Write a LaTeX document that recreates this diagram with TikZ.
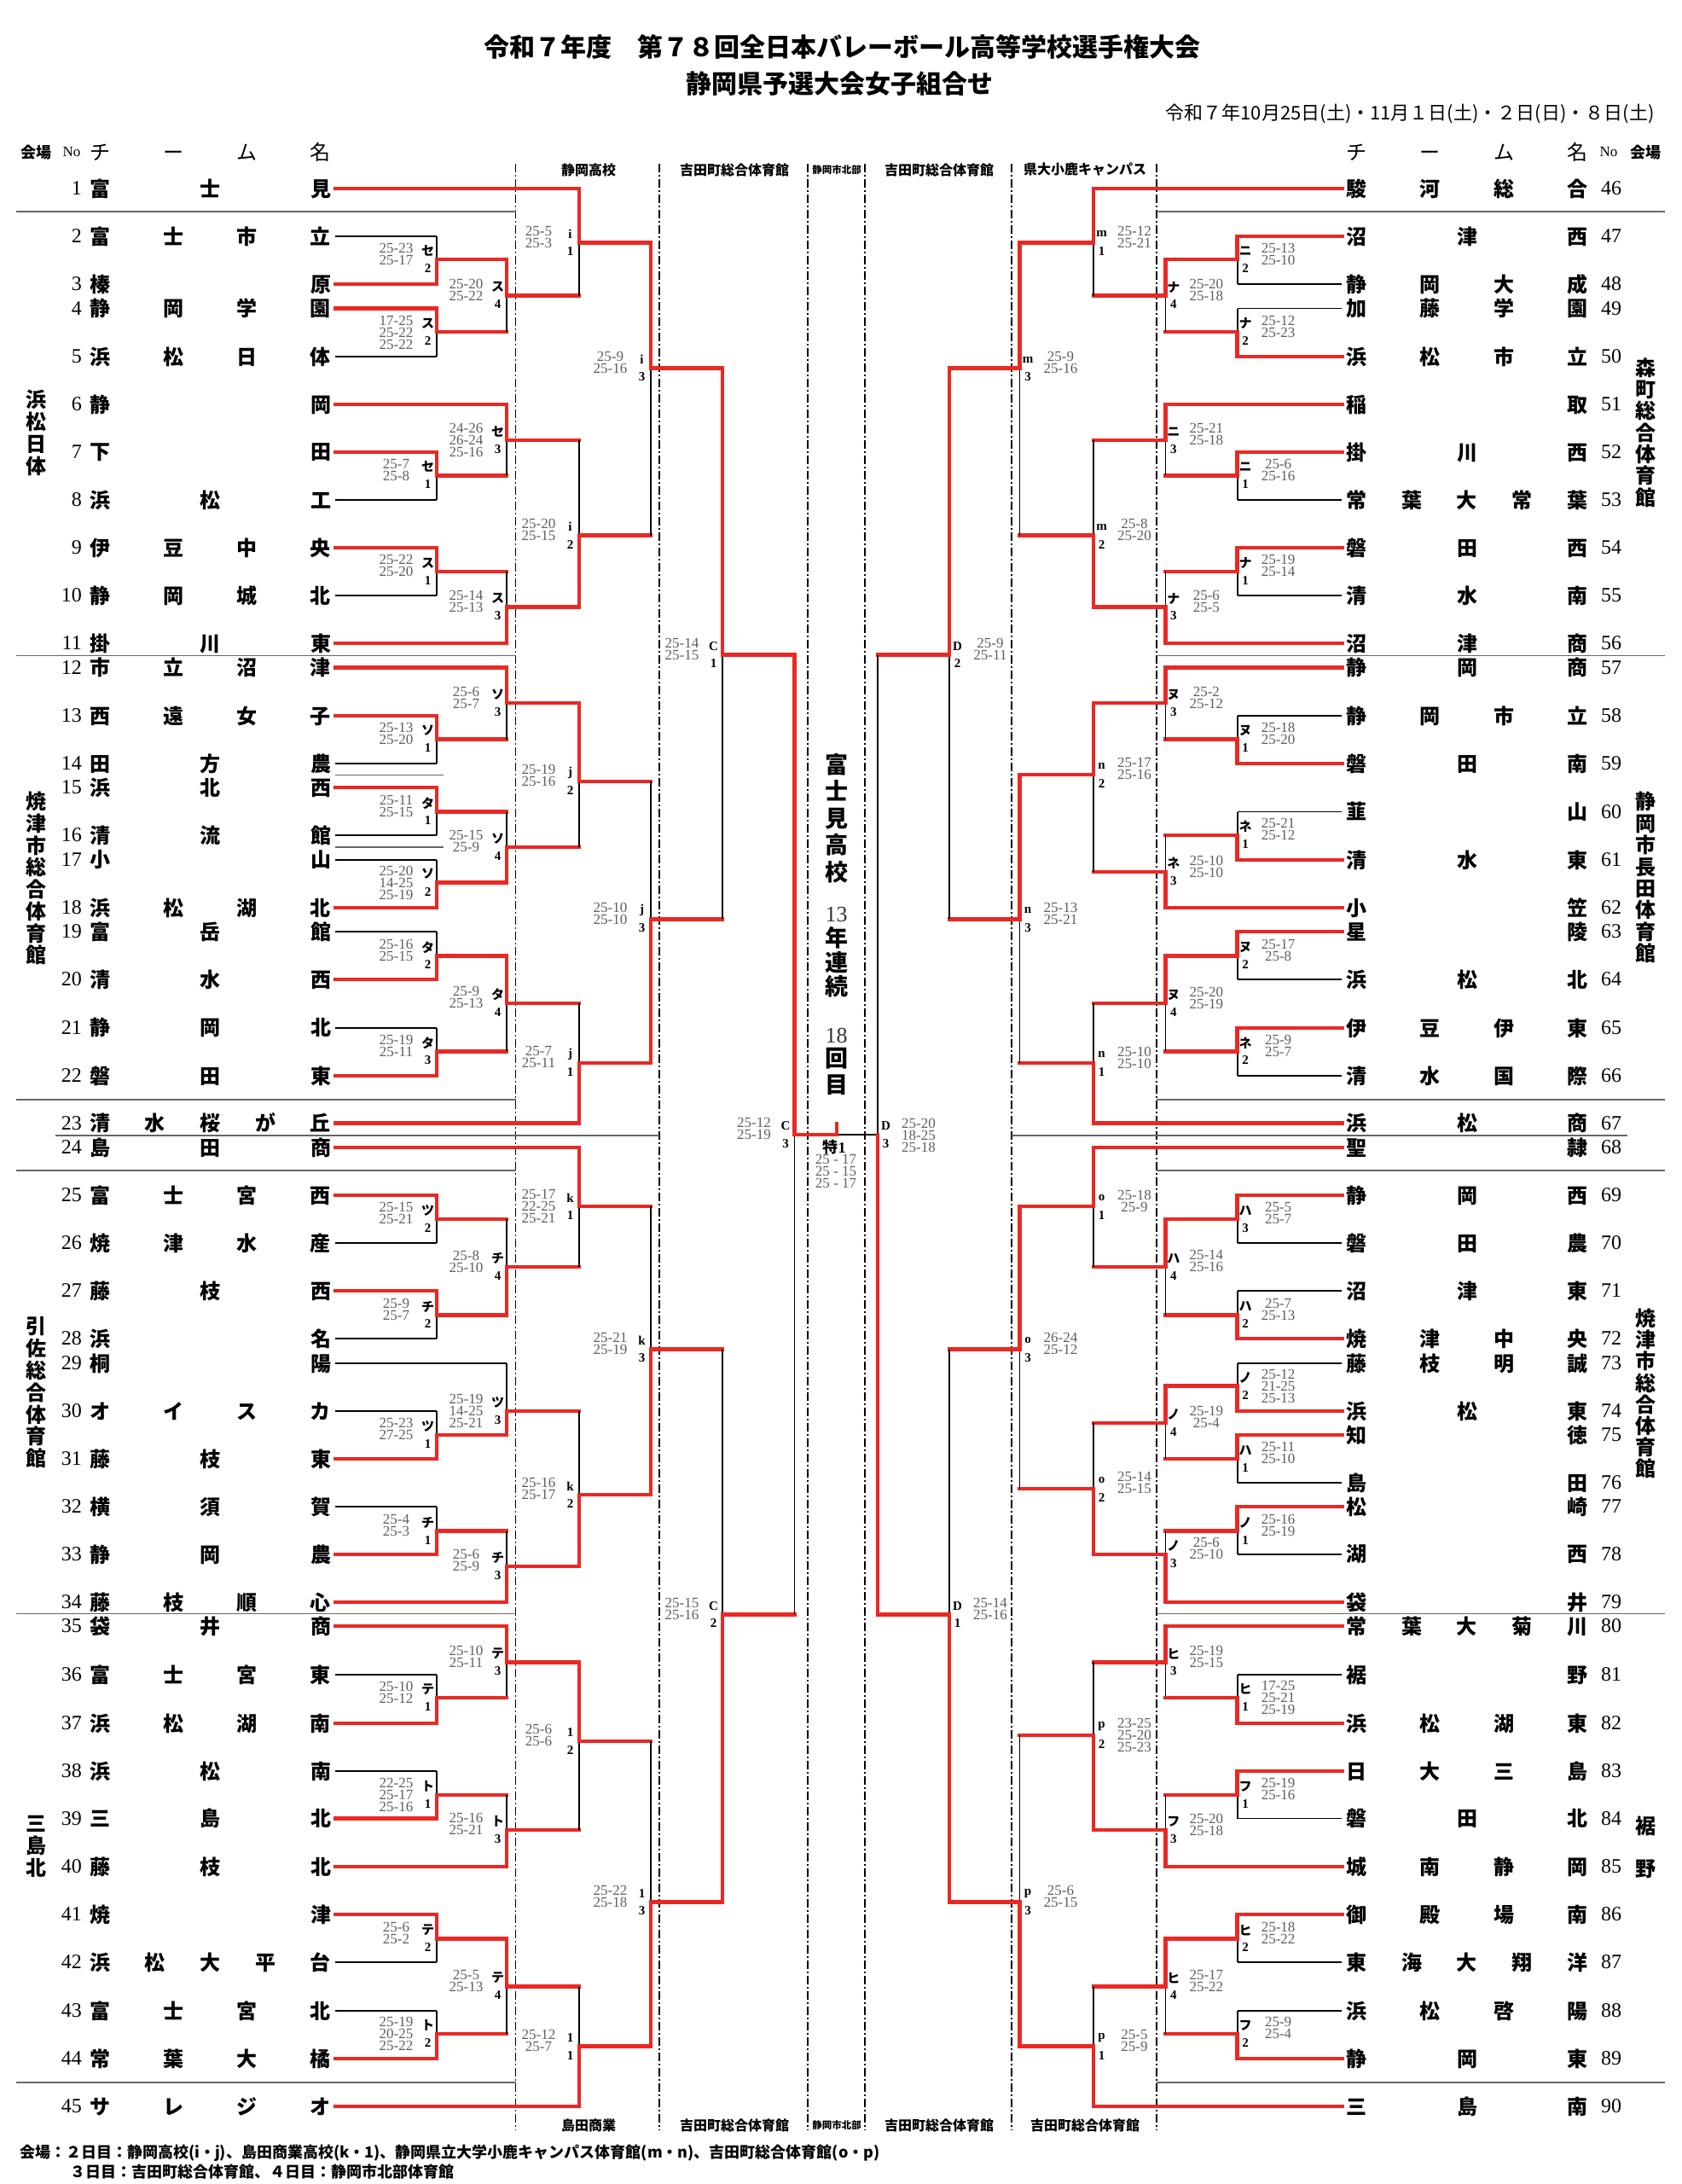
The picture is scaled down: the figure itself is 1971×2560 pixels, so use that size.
\documentclass[tikz,border=0pt]{standalone}
\usepackage{fontspec}
\setmainfont{Liberation Serif}
\newfontfamily\jp{Noto Sans CJK JP}
\definecolor{wred}{RGB}{234,40,36}
\definecolor{sgray}{RGB}{95,95,95}
\newcounter{mt}
\makeatletter
% spread the characters of a team name over a fixed width
\newcommand\spread[1]{\makebox[283pt]{\let\sp@sep\relax\@tfor\sp@c:=#1\do{\sp@sep\sp@c\let\sp@sep\hfill}}}
\makeatother
\newcommand\kn[1]{{\jp\bfseries #1}}
\tikzset{
  win/.style={draw=wred, line width=4.5pt, line cap=rect},
  lose/.style={draw=black, line width=1.8pt},
  sep/.style={draw=black!60, line width=1.3pt},
  dashdot/.style={draw=black, line width=1.5pt, dash pattern=on 10pt off 3pt on 2pt off 3pt},
  tname/.style={font=\jp\bfseries\fontsize{24}{24}\selectfont, inner xsep=5pt, inner ysep=0pt},
  thead/.style={font=\jp\fontsize{24}{24}\selectfont, inner xsep=5pt, inner ysep=0pt},
  tno/.style={font=\fontsize{24}{24}\selectfont, inner sep=0pt},
  mlab/.style={font=\bfseries\fontsize{15}{15}\selectfont, inner sep=0pt},
  score/.style={font=\fontsize{17}{14}\selectfont, text=sgray, align=center, anchor=north, inner sep=0pt},
  venue/.style={font=\jp\bfseries\fontsize{24}{26}\selectfont, align=center, inner sep=0pt},
  colhead/.style={font=\jp\bfseries\fontsize{16}{16}\selectfont, inner sep=0pt},
}
% team on the left / right: number, y, name, first column, style
\newcommand\LT[5]{\node[tname] (team#1) at (246.5,#2) {\spread{#3}};
  \node[tno,anchor=east] (no#1) at (96,#2) {#1};
  \draw[#5] (team#1.east) -- (#4,#2);}
\newcommand\RT[5]{\node[tname] (team#1) at (1720,#2) {\spread{#3}};
  \node[tno,anchor=west] (no#1) at (1877,#2) {#1};
  \draw[#5] (team#1.west) -- (#4,#2);}
% match: x, next x, y top, y bottom, y out (upper / lower winner)
\newcommand\Mt[5]{\draw[lose] (#1,#5) -- (#1,#4); \draw[win] (#1,#3) -- (#1,#5) -- (#2,#5);}
\newcommand\Mb[5]{\draw[lose] (#1,#5) -- (#1,#3); \draw[win] (#1,#4) -- (#1,#5) -- (#2,#5);}
% match labels: x, y out, letter, number, scores
\newcommand\Lb[5]{\stepcounter{mt}%
  \ifdim #1pt<981pt \def\dx{-10.5}\def\sx{-47.5}\else\def\dx{9.5}\def\sx{48}\fi
  \node[mlab] (lt\themt) at ({#1+(\dx)},{#2-10}) {#3};
  \node[mlab] (ln\themt) at ({#1+(\dx)},{#2+10.5}) {#4};
  \node[score] (sc\themt) at ({#1+(\sx)},{#2-19.5}) {#5};}
\begin{document}
\begin{tikzpicture}[x=1pt,y=-1pt,line join=miter]
\useasboundingbox[fill=white] (0,0) rectangle (1971,2560);
%% titles
\node[font=\jp\bfseries\fontsize{30}{30}\selectfont] (title1) at (987,55) {令和７年度　第７８回全日本バレーボール高等学校選手権大会};
\node[font=\jp\bfseries\fontsize{30}{30}\selectfont] (title2) at (984,98) {静岡県予選大会女子組合せ};
\node[font=\jp\fontsize{22}{22}\selectfont,anchor=east] (date) at (1943,133) {令和７年10月25日(土)・11月１日(土)・２日(日)・８日(土)};
%% table heads
\node[font=\jp\bfseries\fontsize{18}{18}\selectfont] (hvL) at (42,178.5) {会場};
\node[font=\fontsize{17}{17}\selectfont] (hnL) at (84,178.5) {No};
\node[thead] (htL) at (246.5,178.5) {\spread{チーム名}};
\node[thead] (htR) at (1720,178.5) {\spread{チーム名}};
\node[font=\fontsize{17}{17}\selectfont] (hnR) at (1886,178.5) {No};
\node[font=\jp\bfseries\fontsize{18}{18}\selectfont] (hvR) at (1929,178.5) {会場};
\foreach \x/\t [count=\i] in {690/静岡高校,861/吉田町総合体育館,1101/吉田町総合体育館,1272/県大小鹿キャンパス}
  \node[colhead] (ct\i) at (\x,199) {\t};
\foreach \x/\t [count=\i] in {690/島田商業,861/吉田町総合体育館,1101/吉田町総合体育館,1272/吉田町総合体育館}
  \node[colhead] (cb\i) at (\x,2491) {\t};
\node[colhead,font=\jp\bfseries\fontsize{11.5}{11.5}\selectfont] (ct5) at (981,199) {静岡市北部};
\node[colhead,font=\jp\bfseries\fontsize{11.5}{11.5}\selectfont] (cb5) at (981,2491) {静岡市北部};
%% grid
\foreach \x in {604.6,773,947,1014,1186,1356}
  \draw[dashdot] (\x,192) -- (\x,2497);
\foreach \y in {248,768.5,1289,1372,1891.5,2441} {
  \draw[sep] (19,\y) -- (604.6,\y);
  \draw[sep] (1356,\y) -- (1952,\y);
}
\draw[sep] (65,1331) -- (773,1331);
\draw[sep] (1186,1331) -- (1908,1331);
\draw[sep] (393,908.8) -- (520,908.8);
\draw[sep] (393,993) -- (520,993);
%% venues
\node[venue] (v1) at (42,507.6) {浜\\松\\日\\体};
\node[venue,font=\jp\bfseries\fontsize{24}{25.7}\selectfont] (v2) at (42,1029.7) {焼\\津\\市\\総\\合\\体\\育\\館};
\node[venue,font=\jp\bfseries\fontsize{24}{25.8}\selectfont] (v3) at (42,1632.3) {引\\佐\\総\\合\\体\\育\\館};
\node[venue] (v4) at (42,2164) {三\\島\\北};
\node[venue,font=\jp\bfseries\fontsize{24}{25.3}\selectfont] (v5) at (1929,507) {森\\町\\総\\合\\体\\育\\館};
\node[venue,font=\jp\bfseries\fontsize{24}{25.4}\selectfont] (v6) at (1929,1028.7) {静\\岡\\市\\長\\田\\体\\育\\館};
\node[venue,font=\jp\bfseries\fontsize{24}{25.1}\selectfont] (v7) at (1929,1633.5) {焼\\津\\市\\総\\合\\体\\育\\館};
\node[venue,font=\jp\bfseries\fontsize{24}{50}\selectfont] (v8) at (1929,2165) {裾\\野};
%% left teams
\LT{1}{221}{富士見}{679}{win}
\LT{2}{277}{富士市立}{512}{lose}
\LT{3}{333}{榛原}{512}{win}
\LT{4}{361.5}{静岡学園}{512}{win}
\LT{5}{418}{浜松日体}{512}{lose}
\LT{6}{474}{静岡}{594}{win}
\LT{7}{530}{下田}{512}{win}
\LT{8}{586}{浜松工}{512}{lose}
\LT{9}{642}{伊豆中央}{512}{win}
\LT{10}{698}{静岡城北}{512}{lose}
\LT{11}{754}{掛川東}{594}{win}
\LT{12}{782.7}{市立沼津}{594}{win}
\LT{13}{839}{西遠女子}{512}{win}
\LT{14}{895}{田方農}{512}{lose}
\LT{15}{923}{浜北西}{512}{win}
\LT{16}{979}{清流館}{512}{lose}
\LT{17}{1007.7}{小山}{512}{lose}
\LT{18}{1064}{浜松湖北}{512}{win}
\LT{19}{1092}{富岳館}{512}{lose}
\LT{20}{1148}{清水西}{512}{win}
\LT{21}{1204.6}{静岡北}{512}{lose}
\LT{22}{1261}{磐田東}{512}{win}
\LT{23}{1316.5}{清水桜が丘}{679}{win}
\LT{24}{1345}{島田商}{679}{win}
\LT{25}{1401}{富士宮西}{512}{win}
\LT{26}{1457}{焼津水産}{512}{lose}
\LT{27}{1513}{藤枝西}{512}{win}
\LT{28}{1569}{浜名}{512}{lose}
\LT{29}{1598}{桐陽}{594}{lose}
\LT{30}{1654}{オイスカ}{512}{lose}
\LT{31}{1710}{藤枝東}{512}{win}
\LT{32}{1766}{横須賀}{512}{lose}
\LT{33}{1822}{静岡農}{512}{win}
\LT{34}{1878}{藤枝順心}{594}{win}
\LT{35}{1906}{袋井商}{594}{win}
\LT{36}{1963}{富士宮東}{512}{lose}
\LT{37}{2020}{浜松湖南}{512}{win}
\LT{38}{2076}{浜松南}{512}{lose}
\LT{39}{2131.5}{三島北}{512}{win}
\LT{40}{2188}{藤枝北}{594}{win}
\LT{41}{2244}{焼津}{512}{win}
\LT{42}{2300}{浜松大平台}{512}{lose}
\LT{43}{2357}{富士宮北}{512}{lose}
\LT{44}{2413}{常葉大橘}{512}{win}
\LT{45}{2469}{サレジオ}{679}{win}
%% right teams
\RT{46}{221}{駿河総合}{1282}{win}
\RT{47}{277}{沼津西}{1450.6}{win}
\RT{48}{333}{静岡大成}{1450.6}{lose}
\RT{49}{361.5}{加藤学園}{1450.6}{lose}
\RT{50}{418}{浜松市立}{1450.6}{win}
\RT{51}{474}{稲取}{1366.4}{win}
\RT{52}{530}{掛川西}{1450.6}{win}
\RT{53}{586}{常葉大常葉}{1450.6}{lose}
\RT{54}{642}{磐田西}{1450.6}{win}
\RT{55}{698}{清水南}{1450.6}{lose}
\RT{56}{754}{沼津商}{1366.4}{win}
\RT{57}{782.7}{静岡商}{1366.4}{win}
\RT{58}{839}{静岡市立}{1450.6}{lose}
\RT{59}{895}{磐田南}{1450.6}{win}
\RT{60}{951.5}{韮山}{1450.6}{lose}
\RT{61}{1008}{清水東}{1450.6}{win}
\RT{62}{1064}{小笠}{1366.4}{win}
\RT{63}{1092}{星陵}{1450.6}{win}
\RT{64}{1148}{浜松北}{1450.6}{lose}
\RT{65}{1205}{伊豆伊東}{1450.6}{win}
\RT{66}{1261}{清水国際}{1450.6}{lose}
\RT{67}{1316.5}{浜松商}{1282}{win}
\RT{68}{1345}{聖隷}{1282}{win}
\RT{69}{1401}{静岡西}{1450.6}{win}
\RT{70}{1457}{磐田農}{1450.6}{lose}
\RT{71}{1513}{沼津東}{1450.6}{lose}
\RT{72}{1569}{焼津中央}{1450.6}{win}
\RT{73}{1598}{藤枝明誠}{1450.6}{lose}
\RT{74}{1654}{浜松東}{1450.6}{win}
\RT{75}{1682}{知徳}{1450.6}{win}
\RT{76}{1738}{島田}{1450.6}{lose}
\RT{77}{1766}{松崎}{1450.6}{win}
\RT{78}{1822}{湖西}{1450.6}{lose}
\RT{79}{1878}{袋井}{1366.4}{win}
\RT{80}{1906}{常葉大菊川}{1366.4}{win}
\RT{81}{1963}{裾野}{1450.6}{lose}
\RT{82}{2020}{浜松湖東}{1450.6}{win}
\RT{83}{2076}{日大三島}{1450.6}{win}
\RT{84}{2131.5}{磐田北}{1450.6}{lose}
\RT{85}{2188}{城南静岡}{1366.4}{win}
\RT{86}{2244}{御殿場南}{1450.6}{win}
\RT{87}{2300}{東海大翔洋}{1450.6}{lose}
\RT{88}{2357}{浜松啓陽}{1450.6}{lose}
\RT{89}{2413}{静岡東}{1450.6}{win}
\RT{90}{2469}{三島南}{1282}{win}
%% left bracket, block i
\Mb{512}{594}{277}{333}{304.2} \Lb{512}{304.2}{\kn{セ}}{2}{25-23\\25-17}
\Mt{512}{594}{361.5}{418}{389.2} \Lb{512}{389.2}{\kn{ス}}{2}{17-25\\25-22\\25-22}
\Mt{594}{679}{304.2}{389.2}{346.5} \Lb{594}{346.5}{\kn{ス}}{4}{25-20\\25-22}
\Mt{679}{763}{221}{346.5}{284.4} \Lb{679}{284.4}{i}{1}{25-5\\25-3}
\Mt{512}{594}{530}{586}{557.3} \Lb{512}{557.3}{\kn{セ}}{1}{25-7\\25-8}
\Mt{594}{679}{474}{557.3}{515.8} \Lb{594}{515.8}{\kn{セ}}{3}{24-26\\26-24\\25-16}
\Mt{512}{594}{642}{698}{670} \Lb{512}{670}{\kn{ス}}{1}{25-22\\25-20}
\Mb{594}{679}{670}{754}{711.5} \Lb{594}{711.5}{\kn{ス}}{3}{25-14\\25-13}
\Mb{679}{763}{515.8}{711.5}{627.7} \Lb{679}{627.7}{i}{2}{25-20\\25-15}
\Mt{763}{847}{284.4}{627.7}{431.5} \Lb{763}{431.5}{i}{3}{25-9\\25-16}
%% block j
\Mt{512}{594}{839}{895}{866.5} \Lb{512}{866.5}{\kn{ソ}}{1}{25-13\\25-20}
\Mt{594}{679}{782.7}{866.5}{824.2} \Lb{594}{824.2}{\kn{ソ}}{3}{25-6\\25-7}
\Mt{512}{594}{923}{979}{951.5} \Lb{512}{951.5}{\kn{タ}}{1}{25-11\\25-15}
\Mb{512}{594}{1007.7}{1064}{1034.6} \Lb{512}{1034.6}{\kn{ソ}}{2}{25-20\\14-25\\25-19}
\Mb{594}{679}{951.5}{1034.6}{993} \Lb{594}{993}{\kn{ソ}}{4}{25-15\\25-9}
\Mt{679}{763}{824.2}{993}{916} \Lb{679}{916}{j}{2}{25-19\\25-16}
\Mb{512}{594}{1092}{1148}{1120.4} \Lb{512}{1120.4}{\kn{タ}}{2}{25-16\\25-15}
\Mb{512}{594}{1204.6}{1261}{1232.3} \Lb{512}{1232.3}{\kn{タ}}{3}{25-19\\25-11}
\Mt{594}{679}{1120.4}{1232.3}{1176} \Lb{594}{1176}{\kn{タ}}{4}{25-9\\25-13}
\Mb{679}{763}{1176}{1316.5}{1246} \Lb{679}{1246}{j}{1}{25-7\\25-11}
\Mb{763}{847}{916}{1246}{1077.3} \Lb{763}{1077.3}{j}{3}{25-10\\25-10}
%% block k
\Mt{512}{594}{1401}{1457}{1429} \Lb{512}{1429}{\kn{ツ}}{2}{25-15\\25-21}
\Mt{512}{594}{1513}{1569}{1541.5} \Lb{512}{1541.5}{\kn{チ}}{2}{25-9\\25-7}
\Mb{594}{679}{1429}{1541.5}{1485} \Lb{594}{1485}{\kn{チ}}{4}{25-8\\25-10}
\Mt{679}{763}{1345}{1485}{1414} \Lb{679}{1414}{k}{1}{25-17\\22-25\\25-21}
\Mb{512}{594}{1654}{1710}{1682} \Lb{512}{1682}{\kn{ツ}}{1}{25-23\\27-25}
\Mb{594}{679}{1598}{1682}{1654} \Lb{594}{1654}{\kn{ツ}}{3}{25-19\\14-25\\25-21}
\Mb{512}{594}{1766}{1822}{1794.6} \Lb{512}{1794.6}{\kn{チ}}{1}{25-4\\25-3}
\Mb{594}{679}{1794.6}{1878}{1836} \Lb{594}{1836}{\kn{チ}}{3}{25-6\\25-9}
\Mb{679}{763}{1654}{1836}{1752} \Lb{679}{1752}{k}{2}{25-16\\25-17}
\Mb{763}{847}{1414}{1752}{1581.5} \Lb{763}{1581.5}{k}{3}{25-21\\25-19}
%% block l
\Mt{594}{679}{1906}{1990}{1948.4} \Lb{594}{1948.4}{\kn{テ}}{3}{25-10\\25-11}
\Mb{512}{594}{1963}{2020}{1990} \Lb{512}{1990}{\kn{テ}}{1}{25-10\\25-12}
\Mb{512}{594}{2076}{2131.5}{2104} \Lb{512}{2104}{\kn{ト}}{1}{22-25\\25-17\\25-16}
\Mb{594}{679}{2104}{2188}{2145} \Lb{594}{2145}{\kn{ト}}{3}{25-16\\25-21}
\Mt{679}{763}{1948.4}{2145}{2041} \Lb{679}{2041}{1}{2}{25-6\\25-6}
\Mt{512}{594}{2244}{2300}{2272.5} \Lb{512}{2272.5}{\kn{テ}}{2}{25-6\\25-2}
\Mb{512}{594}{2357}{2413}{2384} \Lb{512}{2384}{\kn{ト}}{2}{25-19\\20-25\\25-22}
\Mt{594}{679}{2272.5}{2384}{2328.5} \Lb{594}{2328.5}{\kn{テ}}{4}{25-5\\25-13}
\Mb{679}{763}{2328.5}{2469}{2398.7} \Lb{679}{2398.7}{1}{1}{25-12\\25-7}
\Mb{763}{847}{2041}{2398.7}{2229.5} \Lb{763}{2229.5}{1}{3}{25-22\\25-18}
%% C
\Mt{847}{931.5}{431.5}{1077.3}{767.5} \Lb{847}{767.5}{C}{1}{25-14\\25-15}
\Mb{847}{931.5}{1581.5}{2229.5}{1892.4} \Lb{847}{1892.4}{C}{2}{25-15\\25-16}
\Mt{931.5}{981}{767.5}{1892.4}{1330} \Lb{931.5}{1330}{C}{3}{25-12\\25-19}
%% right bracket, block m
\Mt{1450.6}{1366.4}{277}{333}{304.2} \Lb{1450.6}{304.2}{\kn{ニ}}{2}{25-13\\25-10}
\Mb{1450.6}{1366.4}{361.5}{418}{389.2} \Lb{1450.6}{389.2}{\kn{ナ}}{2}{25-12\\25-23}
\Mt{1366.4}{1282}{304.2}{389.2}{346.5} \Lb{1366.4}{346.5}{\kn{ナ}}{4}{25-20\\25-18}
\Mt{1282}{1195.5}{221}{346.5}{284.4} \Lb{1282}{284.4}{m}{1}{25-12\\25-21}
\Mt{1450.6}{1366.4}{530}{586}{557.3} \Lb{1450.6}{557.3}{\kn{ニ}}{1}{25-6\\25-16}
\Mt{1366.4}{1282}{474}{557.3}{515.8} \Lb{1366.4}{515.8}{\kn{ニ}}{3}{25-21\\25-18}
\Mt{1450.6}{1366.4}{642}{698}{670} \Lb{1450.6}{670}{\kn{ナ}}{1}{25-19\\25-14}
\Mb{1366.4}{1282}{670}{754}{711.5} \Lb{1366.4}{711.5}{\kn{ナ}}{3}{25-6\\25-5}
\Mb{1282}{1195.5}{515.8}{711.5}{627.7} \Lb{1282}{627.7}{m}{2}{25-8\\25-20}
\Mt{1195.5}{1113}{284.4}{627.7}{431.5} \Lb{1195.5}{431.5}{m}{3}{25-9\\25-16}
%% block n
\Mb{1450.6}{1366.4}{839}{895}{866.5} \Lb{1450.6}{866.5}{\kn{ヌ}}{1}{25-18\\25-20}
\Mt{1366.4}{1282}{782.7}{866.5}{824.2} \Lb{1366.4}{824.2}{\kn{ヌ}}{3}{25-2\\25-12}
\Mb{1450.6}{1366.4}{951.5}{1008}{979} \Lb{1450.6}{979}{\kn{ネ}}{1}{25-21\\25-12}
\Mb{1366.4}{1282}{979}{1064}{1022} \Lb{1366.4}{1022}{\kn{ネ}}{3}{25-10\\25-10}
\Mt{1282}{1195.5}{824.2}{1022}{908} \Lb{1282}{908}{n}{2}{25-17\\25-16}
\Mt{1450.6}{1366.4}{1092}{1148}{1120.4} \Lb{1450.6}{1120.4}{\kn{ヌ}}{2}{25-17\\25-8}
\Mt{1450.6}{1366.4}{1205}{1261}{1232.3} \Lb{1450.6}{1232.3}{\kn{ネ}}{2}{25-9\\25-7}
\Mt{1366.4}{1282}{1120.4}{1232.3}{1176} \Lb{1366.4}{1176}{\kn{ヌ}}{4}{25-20\\25-19}
\Mb{1282}{1195.5}{1176}{1316.5}{1246} \Lb{1282}{1246}{n}{1}{25-10\\25-10}
\Mt{1195.5}{1113}{908}{1246}{1077.3} \Lb{1195.5}{1077.3}{n}{3}{25-13\\25-21}
%% block o
\Mt{1450.6}{1366.4}{1401}{1457}{1429} \Lb{1450.6}{1429}{\kn{ハ}}{3}{25-5\\25-7}
\Mb{1450.6}{1366.4}{1513}{1569}{1541.5} \Lb{1450.6}{1541.5}{\kn{ハ}}{2}{25-7\\25-13}
\Mt{1366.4}{1282}{1429}{1541.5}{1485} \Lb{1366.4}{1485}{\kn{ハ}}{4}{25-14\\25-16}
\Mt{1282}{1195.5}{1345}{1485}{1414} \Lb{1282}{1414}{o}{1}{25-18\\25-9}
\Mb{1450.6}{1366.4}{1598}{1654}{1624.6} \Lb{1450.6}{1624.6}{\kn{ノ}}{2}{25-12\\21-25\\25-13}
\Mt{1450.6}{1366.4}{1682}{1738}{1710} \Lb{1450.6}{1710}{\kn{ハ}}{1}{25-11\\25-10}
\Mt{1366.4}{1282}{1624.6}{1710}{1668} \Lb{1366.4}{1668}{\kn{ノ}}{4}{25-19\\25-4}
\Mt{1450.6}{1366.4}{1766}{1822}{1794.6} \Lb{1450.6}{1794.6}{\kn{ノ}}{1}{25-16\\25-19}
\Mb{1366.4}{1282}{1794.6}{1878}{1822} \Lb{1366.4}{1822}{\kn{ノ}}{3}{25-6\\25-10}
\Mb{1282}{1195.5}{1668}{1822}{1745} \Lb{1282}{1745}{o}{2}{25-14\\25-15}
\Mt{1195.5}{1113}{1414}{1745}{1581.5} \Lb{1195.5}{1581.5}{o}{3}{26-24\\25-12}
%% block p
\Mt{1366.4}{1282}{1906}{1990}{1948.4} \Lb{1366.4}{1948.4}{\kn{ヒ}}{3}{25-19\\25-15}
\Mb{1450.6}{1366.4}{1963}{2020}{1990} \Lb{1450.6}{1990}{\kn{ヒ}}{1}{17-25\\25-21\\25-19}
\Mt{1450.6}{1366.4}{2076}{2131.5}{2104} \Lb{1450.6}{2104}{\kn{フ}}{1}{25-19\\25-16}
\Mb{1366.4}{1282}{2104}{2188}{2145} \Lb{1366.4}{2145}{\kn{フ}}{3}{25-20\\25-18}
\Mb{1282}{1195.5}{1948.4}{2145}{2034} \Lb{1282}{2034}{p}{2}{23-25\\25-20\\25-23}
\Mt{1450.6}{1366.4}{2244}{2300}{2272.5} \Lb{1450.6}{2272.5}{\kn{ヒ}}{2}{25-18\\25-22}
\Mb{1450.6}{1366.4}{2357}{2413}{2384} \Lb{1450.6}{2384}{\kn{フ}}{2}{25-9\\25-4}
\Mt{1366.4}{1282}{2272.5}{2384}{2328.5} \Lb{1366.4}{2328.5}{\kn{ヒ}}{4}{25-17\\25-22}
\Mb{1282}{1195.5}{2328.5}{2469}{2398.7} \Lb{1282}{2398.7}{p}{1}{25-5\\25-9}
\Mb{1195.5}{1113}{2034}{2398.7}{2229.5} \Lb{1195.5}{2229.5}{p}{3}{25-6\\25-15}
%% D and final
\Mt{1113}{1029}{431.5}{1077.3}{767.5} \Lb{1113}{767.5}{D}{2}{25-9\\25-11}
\Mb{1113}{1029}{1581.5}{2229.5}{1892.4} \Lb{1113}{1892.4}{D}{1}{25-14\\25-16}
\draw[lose] (1029,767.5) -- (1029,1330) -- (981,1330);
\draw[win] (1029,1892.4) -- (1029,1330);
\draw[win] (981,1330) -- (981,1317);
\Lb{1029}{1330}{D}{3}{25-20\\18-25\\25-18}
\node[font=\bfseries\fontsize{18}{18}\selectfont,inner sep=0pt] (fin) at (978,1345) {\kn{特}1};
\node[score] (finsc) at (980,1353.4) {25 - 17\\25 - 15\\25 - 17};
%% champion
\node[font=\jp\bfseries\fontsize{27}{31.5}\selectfont,align=center,inner sep=0pt] (champ) at (980.5,959) {富\\士\\見\\高\\校};
\node[font=\fontsize{26}{26}\selectfont,text=black!80,inner sep=0pt] (yr13) at (980.5,1072) {13};
\node[font=\jp\bfseries\fontsize{27}{28.5}\selectfont,align=center,inner sep=0pt] (yrs) at (980.5,1128) {年\\連\\続};
\node[font=\fontsize{26}{26}\selectfont,text=black!80,inner sep=0pt] (no18) at (980.5,1213.6) {18};
\node[font=\jp\bfseries\fontsize{27}{30.5}\selectfont,align=center,inner sep=0pt] (tms) at (980.5,1256) {回\\目};
%% footer
\node[font=\jp\bfseries\fontsize{18}{18}\selectfont,anchor=west,inner sep=0pt] (foot1) at (23,2524) {会場：２日目：静岡高校(i・j)、島田商業高校(k・1)、静岡県立大学小鹿キャンパス体育館(m・n)、吉田町総合体育館(o・p)};
\node[font=\jp\bfseries\fontsize{18}{18}\selectfont,anchor=west,inner sep=0pt] (foot2) at (82,2546) {３日目：吉田町総合体育館、４日目：静岡市北部体育館};
\end{tikzpicture}
\end{document}
